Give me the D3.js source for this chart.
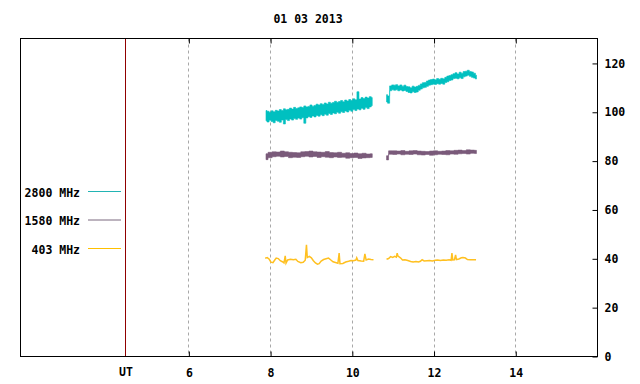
<!doctype html>
<html>
<head>
<script src="https://cdnjs.cloudflare.com/ajax/libs/d3/7.8.5/d3.min.js"></script>
<style>
body { margin: 0; background: #fff; }
text { font-family: "DejaVu Sans Mono", monospace; font-weight: bold; font-size: 11.5px; fill: #000; }
</style>
</head>
<body>
<svg id="chart" width="640" height="384"></svg>
<script>
var title = "01 03 2013";
var xTicks = [6, 8, 10, 12, 14];
var yTicks = [0, 20, 40, 60, 80, 100, 120];
var utHour = 4.46;
var legendNames = ["2800 MHz", "1580 MHz", "403 MHz"];
var legendColors = ["#22b4b4", "#7a687e", "#ffc000"];

// 2800 MHz, band low/high, every 0.05 h
var teal1Start = 7.90, teal2Start = 10.85, tealStep = 0.05;
var teal1Hi = [100.5,100.2,99.8,100.4,100.0,100.6,100.3,100.9,100.5,101.2,
  100.8,101.0,101.5,101.1,101.8,101.3,101.6,102.0,101.7,102.4,
  102.0,102.2,102.8,102.3,102.6,103.1,102.8,103.3,103.0,103.6,
  103.2,103.9,103.5,103.8,104.3,103.9,104.2,104.6,104.1,104.8,
  104.4,105.0,104.6,105.3,104.9,108.2,105.2,105.8,105.4,106.0,
  105.6,106.2,105.8];
var teal1Lo = [96.3,95.8,96.5,96.0,95.5,96.4,96.1,95.7,96.6,95.0,
  96.8,96.4,97.0,96.6,97.2,96.9,97.4,97.0,97.6,95.3,
  97.5,98.0,97.7,98.3,97.9,98.5,98.2,98.8,98.4,99.0,
  98.6,99.3,98.9,99.5,99.2,99.8,99.4,100.0,99.7,100.3,
  99.9,100.6,100.2,100.9,100.5,101.1,100.8,101.4,101.0,101.7,
  101.3,102.0,102.5];
var teal2Hi = [107.0,106.5,110.6,111.0,110.9,111.1,110.6,111.0,110.5,110.9,
  110.3,110.2,109.8,110.5,110.1,110.4,110.8,111.4,111.9,112.0,
  112.6,113.0,113.2,113.4,113.1,113.6,113.3,113.7,113.5,114.1,
  114.6,114.8,115.2,115.6,116.0,115.5,116.2,115.8,116.5,116.6,
  117.0,116.5,116.3,115.8,115.0];
var teal2Lo = [104.0,103.5,108.6,109.0,108.8,109.0,108.6,108.9,108.5,108.7,
  108.3,107.9,107.7,108.2,107.9,108.1,108.8,109.3,109.8,110.0,
  110.4,110.9,111.1,111.3,111.2,111.5,111.3,111.6,111.3,112.0,
  112.3,112.8,113.0,113.6,113.7,113.5,113.9,113.6,114.3,114.6,
  115.0,114.5,114.1,113.8,113.4];

// 1580 MHz, band low/high, every 0.1 h
var purple1Start = 7.90, purple2Start = 10.85, purpleStep = 0.1;
var purple1Hi = [82.8,83.4,83.6,83.5,83.9,83.6,83.4,83.3,83.2,83.6,83.7,83.9,83.6,83.5,
  83.4,83.7,83.3,83.2,83.4,83.0,83.2,82.9,83.1,82.8,83.0,82.7,82.8];
var purple1Lo = [80.4,81.2,81.6,81.8,81.5,81.7,81.2,81.4,81.3,81.6,81.8,81.5,81.7,81.3,
  81.6,81.4,81.2,81.5,81.3,81.4,81.0,81.2,81.3,80.9,81.1,81.2,81.3];
var purple2Hi = [82.0,84.0,84.0,83.9,84.1,83.8,84.0,84.1,83.9,83.8,83.7,83.9,84.0,83.8,
  83.9,84.1,84.0,84.2,84.3,84.1,84.4,84.3,84.2];
var purple2Lo = [80.3,82.6,82.5,82.7,82.4,82.6,82.5,82.7,82.4,82.3,82.5,82.2,82.4,82.6,
  82.5,82.4,82.7,82.6,82.8,82.9,82.7,83.0,82.9];

// 403 MHz, [hour, value]
var gold1 = [[7.88,40.0],[7.93,40.3],[7.98,39.6],[8.02,38.4],[8.07,38.2],[8.11,39.2],[8.15,40.1],
  [8.20,39.9],[8.25,39.0],[8.30,38.6],[8.34,38.1],[8.37,41.0],[8.39,38.0],[8.43,39.3],[8.50,39.6],
  [8.57,39.4],[8.63,39.6],[8.68,38.7],[8.75,38.2],[8.81,38.4],[8.86,39.2],[8.89,45.5],[8.91,40.3],
  [8.96,40.8],[9.01,40.2],[9.06,39.0],[9.11,38.1],[9.16,37.6],[9.20,37.8],[9.25,38.9],[9.31,39.5],
  [9.37,39.8],[9.43,40.1],[9.48,39.4],[9.54,38.6],[9.60,38.3],[9.66,38.0],[9.69,42.1],[9.71,37.8],
  [9.78,37.9],[9.85,38.5],[9.92,38.8],[9.98,39.1],[10.04,39.0],[10.10,39.3],[10.12,40.2],[10.15,39.1],
  [10.23,38.9],[10.29,38.8],[10.32,41.8],[10.35,39.3],[10.41,39.7],[10.47,39.5],[10.53,39.4]];
var gold2 = [[10.85,39.6],[10.90,39.9],[10.95,40.7],[11.00,40.4],[11.05,40.8],[11.09,40.5],[11.11,42.1],
  [11.13,40.9],[11.19,40.2],[11.24,39.3],[11.30,39.4],[11.37,39.1],[11.44,38.7],[11.50,38.5],[11.57,38.7],
  [11.63,38.5],[11.68,38.8],[11.72,39.4],[11.77,38.9],[11.84,39.0],[11.90,39.1],[11.97,38.9],[12.04,39.2],
  [12.10,39.3],[12.17,39.1],[12.24,39.3],[12.31,39.2],[12.38,39.4],[12.43,39.2],[12.45,42.1],[12.47,39.3],
  [12.51,39.4],[12.54,41.4],[12.56,39.5],[12.62,39.7],[12.68,40.2],[12.72,40.3],[12.78,40.1],[12.83,39.5],
  [12.90,39.4],[12.97,39.4],[13.04,39.4]];

var svg = d3.select("#chart");
var plotLeft = 20, plotRight = 597, plotTop = 38.5, plotBottom = 356;

var x = d3.scaleLinear().domain([1.88, 16.0]).range([plotLeft, plotRight]);
var y = d3.scaleLinear().domain([0, 130]).range([plotBottom, plotTop]);

svg.append("text").attr("x", 308).attr("y", 23).attr("text-anchor", "middle").text(title);

// grid
svg.selectAll(".grid").data(xTicks).enter().append("line")
  .attr("x1", d => Math.round(x(d)) + 0.5).attr("x2", d => Math.round(x(d)) + 0.5)
  .attr("y1", plotTop).attr("y2", plotBottom)
  .style("stroke", "#a8a8a8").style("stroke-dasharray", "3,3");

// bands
function band(start, step, lo, hi) {
  var n = Math.min(lo.length, hi.length), pts = [];
  for (var i = 0; i < n; i++) {
    pts.push([start + i * step, lo[i], hi[i]]);
  }
  return pts;
}
function drawBand(pts, color) {
  svg.append("path")
    .attr("d", d3.area().curve(d3.curveStep).x(d => x(d[0])).y0(d => y(d[1])).y1(d => y(d[2]))(pts))
    .style("fill", color).style("stroke", color).style("stroke-width", 0.6);
}
drawBand(band(teal1Start, tealStep, teal1Lo, teal1Hi), "#00c0c0");
drawBand(band(teal2Start, tealStep, teal2Lo, teal2Hi), "#00c0c0");
drawBand(band(purple1Start, purpleStep, purple1Lo, purple1Hi), "#7a5a7a");
drawBand(band(purple2Start, purpleStep, purple2Lo, purple2Hi), "#7a5a7a");

var goldLine = d3.line().x(d => x(d[0])).y(d => y(d[1]));
[gold1, gold2].forEach(s => {
  svg.append("path").attr("d", goldLine(s))
    .style("fill", "none").style("stroke", "#ffc020").style("stroke-width", 1.5);
});

// UT separator
svg.append("line")
  .attr("x1", Math.round(x(utHour)) + 0.5).attr("x2", Math.round(x(utHour)) + 0.5)
  .attr("y1", plotTop).attr("y2", plotBottom)
  .style("stroke", "#900000");

// frame
svg.append("rect").attr("x", plotLeft + 0.5).attr("y", plotTop).attr("width", plotRight - plotLeft)
  .attr("height", plotBottom - plotTop + 0.5)
  .style("fill", "none").style("stroke", "#000");

// axes
var xb = svg.append("g").attr("transform", "translate(0.5," + (plotBottom + 0.5) + ")")
  .call(d3.axisBottom(x).tickValues(xTicks).tickSize(-5).tickPadding(12).tickFormat(d3.format("d")));
xb.select(".domain").remove();
var xt = svg.append("g").attr("transform", "translate(0.5," + plotTop + ")")
  .call(d3.axisTop(x).tickValues(xTicks).tickSize(-5).tickFormat(""));
xt.select(".domain").remove();
var yr = svg.append("g").attr("transform", "translate(" + (plotRight + 0.5) + ",0.5)")
  .call(d3.axisRight(y).tickValues(yTicks).tickSize(-5).tickPadding(7));
yr.select(".domain").remove();
svg.selectAll("g").attr("font-family", null).attr("font-size", null);
svg.selectAll(".tick line").style("stroke", "#000");

svg.append("text").attr("x", x(utHour) + 0.5).attr("y", plotBottom + 12)
  .attr("dy", "0.71em").attr("text-anchor", "middle").text("UT");

// legend
legendNames.forEach((name, i) => {
  var ly = 191.5 + i * 28.5;
  svg.append("text").attr("x", 80).attr("y", ly + 5).attr("text-anchor", "end").text(name);
  svg.append("line").attr("x1", 88).attr("x2", 121).attr("y1", ly).attr("y2", ly)
    .style("stroke", legendColors[i]);
});
</script>
</body>
</html>
